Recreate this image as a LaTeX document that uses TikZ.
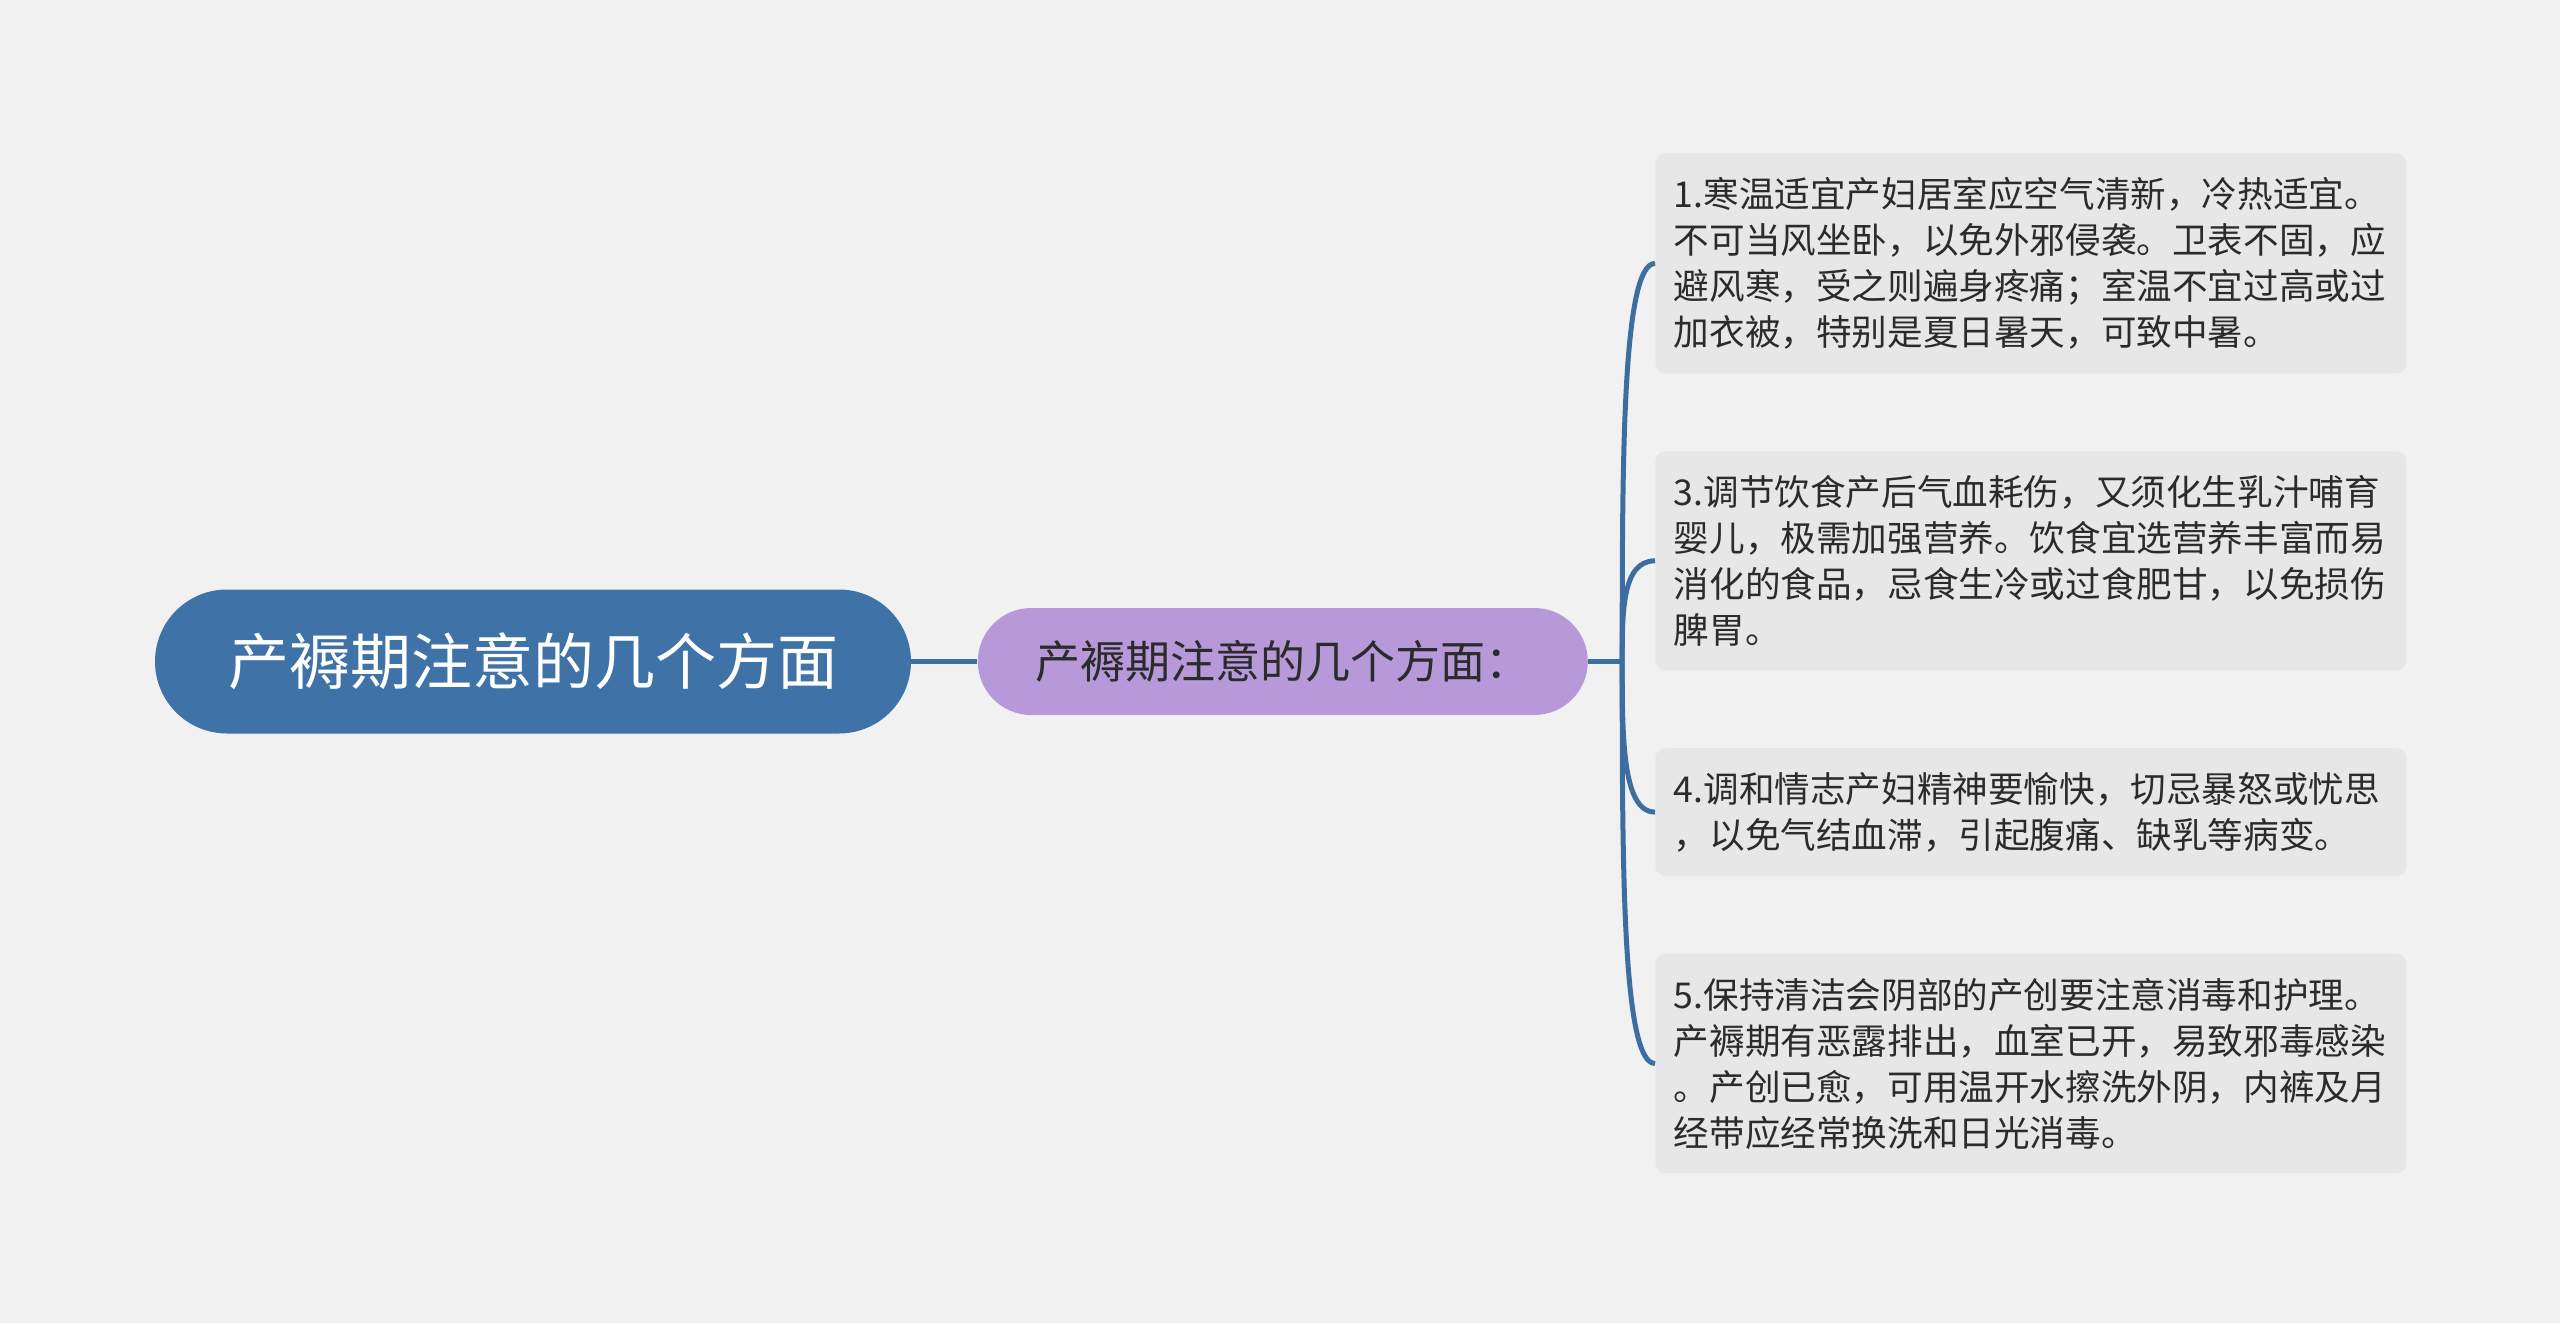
\documentclass[tikz,border=0pt]{standalone}
\usepackage{fontspec}
\setmainfont{Noto Sans CJK SC}
\usepackage{xcolor}
\definecolor{rootBlue}{HTML}{3F72A6}
\definecolor{subPurple}{HTML}{B799DA}
\definecolor{boxGray}{HTML}{E7E7E7}
\definecolor{bgGray}{HTML}{F1F1F1}
\definecolor{lineBlue}{HTML}{3D6E9F}
\definecolor{textDark}{HTML}{2B2B2B}
\usepackage{tikz}
\usetikzlibrary{positioning,calc}
\tikzset{%
  rootNode/.style={%
    rectangle,
    rounded corners=36pt,
    fill=rootBlue,
    text=white,
    minimum width=378pt,
    minimum height=72pt,
    font=\fontsize{30.5pt}{36pt}\selectfont
  },
  subNode/.style={%
    rectangle,
    rounded corners=26.75pt,
    fill=subPurple,
    text=textDark,
    minimum width=305pt,
    minimum height=53.5pt,
    font=\fontsize{22.5pt}{27pt}\selectfont
  },
  noteBox/.style={%
    rectangle,
    rounded corners=5pt,
    fill=boxGray,
    text=textDark,
    text width=357pt,
    inner xsep=9.25pt,
    inner ysep=12pt,
    align=left,
    font=\fontsize{17.8pt}{23pt}\selectfont
  },
  branchLine/.style={%
    draw=lineBlue,
    line width=2.5pt
  }
}

\begin{document}
\begin{tikzpicture}[
                node distance=38.5pt
            ]
            \fill[bgGray] (0,0) rectangle (1280pt,-661.5pt);
            \useasboundingbox (0,0) rectangle (1280pt,-661.5pt);

            \node[rootNode] (root) at (266.5pt,-330.75pt) {产褥期注意的几个方面};
            \node[subNode, right=33pt of root] (sub) {产褥期注意的几个方面：};
            \coordinate[right=17pt of sub.east] (hub);

            \node[noteBox, anchor=north west] (b1) at (827.5pt,-76.5pt) {1.寒温适宜产妇居室应空气清新，冷热适宜。\\不可当风坐卧，以免外邪侵袭。卫表不固，应\\避风寒，受之则遍身疼痛；室温不宜过高或过\\加衣被，特别是夏日暑天，可致中暑。};
            \node[noteBox, below=of b1] (b3) {3.调节饮食产后气血耗伤，又须化生乳汁哺育\\婴儿，极需加强营养。饮食宜选营养丰富而易\\消化的食品，忌食生冷或过食肥甘，以免损伤\\脾胃。};
            \node[noteBox, below=of b3] (b4) {4.调和情志产妇精神要愉快，切忌暴怒或忧思\\，以免气结血滞，引起腹痛、缺乳等病变。};
            \node[noteBox, below=of b4] (b5) {5.保持清洁会阴部的产创要注意消毒和护理。\\产褥期有恶露排出，血室已开，易致邪毒感染\\。产创已愈，可用温开水擦洗外阴，内裤及月\\经带应经常换洗和日光消毒。};

            \draw[branchLine] (root.east) -- (sub.west);
            \draw[branchLine] (sub.east) -- (hub);
            \foreach \b in {b1,b3,b4,b5}
                \draw[branchLine] (hub) .. controls ($(hub)!0.5!(hub |- \b.west)$) and (hub |- \b.west) .. (\b.west);
        \end{tikzpicture}
\end{document}
